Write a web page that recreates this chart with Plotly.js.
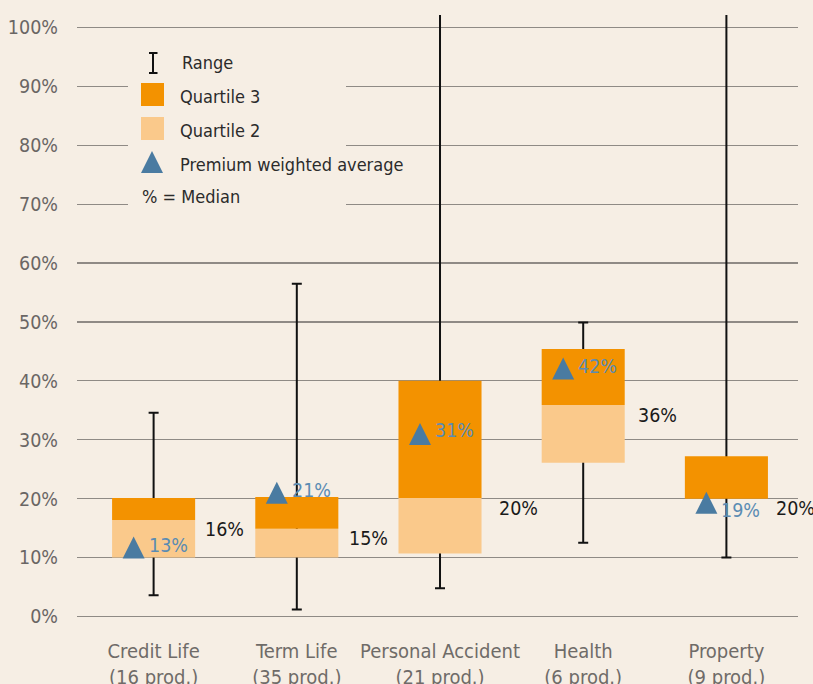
<!DOCTYPE html>
<html>
<head>
<meta charset="utf-8">
<script src="https://cdn.plot.ly/plotly-3.0.1.min.js"></script>
<style>html,body{margin:0;padding:0;background:#F6EEE4;}#chart{width:813px;height:684px;}</style>
</head>
<body>
<div id="chart"></div>
<script>
// ---- data ----
var categories = ["Credit Life<br>(16 prod.)", "Term Life<br>(35 prod.)", "Personal Accident<br>(21 prod.)", "Health<br>(6 prod.)", "Property<br>(9 prod.)"];
var rangeMin = [3.6, 1.2, 4.8, 12.5, 10.0];
var rangeMax = [34.6, 56.5, 110, 49.9, 110];
var q1 = [10.0, 10.0, 10.7, 26.1, 20.0];
var median = [16.4, 14.9, 20.1, 35.9, 20.0];
var q3 = [20.1, 20.3, 40.0, 45.4, 27.2];
var medianLabel = ["16%", "15%", "20%", "36%", "20%"];
var avgMarkerY = [11.7, 21.0, 31.0, 42.1, 19.3];
var avgLabel = ["13%", "21%", "31%", "42%", "19%"];
var yTickVals = [0, 10, 20, 30, 40, 50, 60, 70, 80, 90, 100];
var yTickText = ["0%", "10%", "20%", "30%", "40%", "50%", "60%", "70%", "80%", "90%", "100%"];

// ---- style ----
var BG = "#F6EEE4";
var ORANGE = "#F39200";
var LIGHT = "#FAC98B";
var BLUE = "#4A7BA1";
var BLUE_TXT = "#5B8CB3";
var FONT = "'DejaVu Sans Condensed', 'Liberation Sans Narrow', 'DejaVu Sans', sans-serif";
var W = 813, H = 684, ML = 77, MR = 15, MT = 15, MB = 54;
var barWidth = 0.58;
var avgLabelYShift = [2, 2, 3, 2, -8];
var medLabelXShift = [49, 50, 57, 53, 48];

var xs = categories.map(function (c, i) { return i; });
function px(x) { return (x - ML) / (W - ML - MR); }
function py(y) { return 1 - (y - MT) / (H - MT - MB); }

var traces = [];
// whiskers (drawn first, so boxes cover them)
traces.push({
  type: "bar", x: xs, y: rangeMin, width: barWidth,
  marker: { color: "rgba(0,0,0,0)" }, hoverinfo: "skip", showlegend: false,
  error_y: { type: "data", symmetric: false,
    array: rangeMax.map(function (v, i) { return v - rangeMin[i]; }),
    arrayminus: rangeMin.map(function () { return 0; }),
    color: "#111111", thickness: 2, width: 5 }
});
// quartile 2
traces.push({
  type: "bar", x: xs, base: q1, y: median.map(function (v, i) { return v - q1[i]; }),
  width: barWidth, marker: { color: LIGHT, line: { width: 0 } }, showlegend: false, hoverinfo: "skip"
});
// quartile 3
traces.push({
  type: "bar", x: xs, base: median, y: q3.map(function (v, i) { return v - median[i]; }),
  width: barWidth, marker: { color: ORANGE, line: { width: 0 } }, showlegend: false, hoverinfo: "skip"
});

var shapes = [];
var annotations = [];
// triangles
xs.forEach(function (x, i) {
  shapes.push({ type: "path", xref: "x", yref: "y", xsizemode: "pixel", ysizemode: "pixel",
    xanchor: x, yanchor: avgMarkerY[i], path: "M-31,-11L-9,-11L-20,11Z",
    fillcolor: BLUE, line: { width: 0 }, layer: "above" });
  annotations.push({ x: x, y: avgMarkerY[i], xref: "x", yref: "y", text: avgLabel[i], showarrow: false,
    xanchor: "left", yanchor: "middle", xshift: -7, yshift: avgLabelYShift[i],
    font: { family: FONT, size: 19.5, color: BLUE_TXT } });
  annotations.push({ x: x, y: median[i], xref: "x", yref: "y", text: medianLabel[i], showarrow: false,
    xanchor: "left", yanchor: "middle", xshift: medLabelXShift[i], yshift: -10,
    font: { family: FONT, size: 19.5, color: "#1a1a1a" } });
});

// custom legend
shapes.push({ type: "rect", xref: "paper", yref: "paper", x0: px(128), x1: px(346), y0: py(40), y1: py(216),
  fillcolor: BG, line: { width: 0 }, layer: "above" });
// range symbol
shapes.push({ type: "line", xref: "paper", yref: "paper", x0: px(153), x1: px(153), y0: py(53), y1: py(73), line: { color: "#111", width: 2 }, layer: "above" });
shapes.push({ type: "line", xref: "paper", yref: "paper", x0: px(149), x1: px(157.5), y0: py(53), y1: py(53), line: { color: "#111", width: 2 }, layer: "above" });
shapes.push({ type: "line", xref: "paper", yref: "paper", x0: px(149), x1: px(157.5), y0: py(73), y1: py(73), line: { color: "#111", width: 2 }, layer: "above" });
shapes.push({ type: "rect", xref: "paper", yref: "paper", x0: px(141), x1: px(164), y0: py(83), y1: py(106), fillcolor: ORANGE, line: { width: 0 }, layer: "above" });
shapes.push({ type: "rect", xref: "paper", yref: "paper", x0: px(141), x1: px(164), y0: py(117), y1: py(140), fillcolor: LIGHT, line: { width: 0 }, layer: "above" });
shapes.push({ type: "path", xref: "paper", yref: "paper", xsizemode: "pixel", ysizemode: "pixel",
  xanchor: px(152), yanchor: py(162), path: "M-11,-11L11,-11L0,11Z", fillcolor: BLUE, line: { width: 0 }, layer: "above" });

var legendItems = [["Range", 180, 63], ["Quartile 3", 178, 96], ["Quartile 2", 178, 130], ["Premium weighted average", 178, 164], ["% = Median", 140, 197]];
legendItems.forEach(function (it) {
  annotations.push({ xref: "paper", yref: "paper", x: px(it[1]), y: py(it[2]), text: it[0], showarrow: false,
    xanchor: "left", yanchor: "middle", font: { family: FONT, size: 18, color: "#2b2b2b" } });
});

var layout = {
  width: W, height: H,
  margin: { l: ML, r: MR, t: MT, b: MB },
  paper_bgcolor: BG, plot_bgcolor: BG,
  barmode: "overlay", showlegend: false,
  font: { family: FONT, size: 17, color: "#6f6b68" },
  xaxis: { range: [-0.535, 4.5], tickvals: xs, ticktext: categories, showgrid: false, zeroline: false,
    showline: false, ticks: "", tickfont: { family: FONT, size: 20, color: "#6f6b68" }, ticklabelstandoff: 7, fixedrange: true },
  yaxis: { range: [-2.29, 102.1], tickvals: yTickVals, ticktext: yTickText, showgrid: true,
    gridcolor: "#8f8a85", gridwidth: 1.2, zeroline: false, showline: false, ticks: "",
    tickfont: { family: FONT, size: 19.5, color: "#6a6664" }, ticklabelstandoff: 18, fixedrange: true },
  shapes: shapes,
  annotations: annotations
};

Plotly.newPlot("chart", traces, layout, { displayModeBar: false, staticPlot: true });
</script>
</body>
</html>
